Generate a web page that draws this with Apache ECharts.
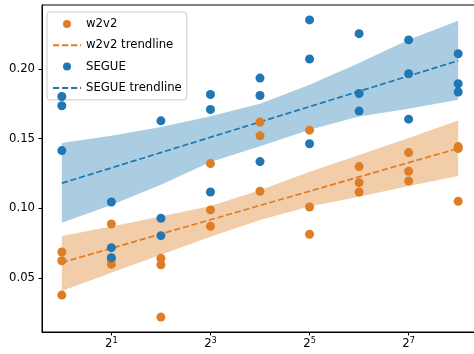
<!DOCTYPE html>
<html>
<head>
<meta charset="utf-8">
<script src="https://cdn.jsdelivr.net/npm/echarts@6/dist/echarts.min.js"></script>
<style>
html,body{margin:0;padding:0;background:#fff;}
#chart{width:474px;height:354px;}
</style>
</head>
<body>
<div id="chart"></div>
<script>
// ---- data ----
var xValues = [1, 2, 4, 8, 16, 32, 64, 128, 256];
var w2v2Values = [
  [0.0686, 0.0623, 0.0376],
  [0.0887, 0.0630, 0.0597],
  [0.0640, 0.0594, 0.0218],
  [0.1321, 0.0988, 0.0870],
  [0.1619, 0.1520, 0.1122],
  [0.1561, 0.1009, 0.0813],
  [0.1299, 0.1184, 0.1117],
  [0.1400, 0.1266, 0.1196],
  [0.1443, 0.1429, 0.1050]
];
var segueValues = [
  [0.1803, 0.1736, 0.1414],
  [0.1045, 0.0717, 0.0645],
  [0.1628, 0.0928, 0.0803],
  [0.1817, 0.1709, 0.1117],
  [0.1935, 0.1810, 0.1335],
  [0.2353, 0.2072, 0.1463],
  [0.2254, 0.1824, 0.1698],
  [0.2209, 0.1966, 0.1640],
  [0.2110, 0.1894, 0.1835]
];
var trendX = [1, 256];
var w2v2Trend = [0.061, 0.143];
var segueTrend = [0.118, 0.206];
var w2v2Upper = [0.0801, 0.0868, 0.0940, 0.1017, 0.1130, 0.1263, 0.1383, 0.1504, 0.1630];
var w2v2Lower = [0.0405, 0.0537, 0.0666, 0.0796, 0.0916, 0.1012, 0.1083, 0.1160, 0.1232];
var segueUpper = [0.1468, 0.1520, 0.1583, 0.1660, 0.1750, 0.1887, 0.2043, 0.2211, 0.2347];
var segueLower = [0.0896, 0.1024, 0.1168, 0.1333, 0.1446, 0.1563, 0.1659, 0.1714, 0.1779];
var xTickValues = [2, 8, 32, 128];
var yTickValues = [0.05, 0.10, 0.15, 0.20];

// ---- styling ----
var ORANGE = '#de7d25';
var BLUE = '#1f77b4';
var ORANGE_BAND = '#f2cdaa';
var BLUE_BAND = '#aacde2';
var FONT = 'DejaVu Sans';
var FS = 11.7;
var DASH = [6.2, 2.8];

function points(vals) {
  var out = [];
  vals.forEach(function (row, i) {
    row.forEach(function (v) { out.push([xValues[i], v]); });
  });
  return out;
}
function line(ys) { return ys.map(function (v, i) { return [trendX[i], v]; }); }
function bandSeries(upper, lower, color) {
  return {
    type: 'custom',
    silent: true,
    z: 1,
    clip: false,
    data: xValues.map(function (x, i) { return [x, upper[i], lower[i]]; }),
    renderItem: function (params, api) {
      if (params.dataIndex !== 0) return null;
      var pts = [];
      for (var i = 0; i < xValues.length; i++) pts.push(api.coord([xValues[i], upper[i]]));
      for (var j = xValues.length - 1; j >= 0; j--) pts.push(api.coord([xValues[j], lower[j]]));
      return { type: 'polygon', shape: { points: pts }, style: { fill: color } };
    }
  };
}

var chart = echarts.init(document.getElementById('chart'), null, { renderer: 'canvas' });
chart.setOption({
  animation: false,
  backgroundColor: '#fff',
  textStyle: { fontFamily: FONT },
  grid: {
    left: 42, width: 436, top: 5, height: 327,
    outerBoundsMode: 'none', containLabel: false,
    show: true, borderColor: '#000', borderWidth: 1, backgroundColor: 'transparent'
  },
  legend: {
    left: 47, top: 12, orient: 'vertical',
    itemWidth: 28, itemHeight: 8, itemGap: 9.3,
    padding: [6, 5, 6, 5],
    borderColor: '#cccccc', borderWidth: 1, borderRadius: 3,
    backgroundColor: 'rgba(255,255,255,0.8)',
    textStyle: { fontFamily: FONT, fontSize: FS, color: '#000' },
    data: [
      { name: 'w2v2' },
      { name: 'w2v2 trendline', itemStyle: { opacity: 0 } },
      { name: 'SEGUE' },
      { name: 'SEGUE trendline', itemStyle: { opacity: 0 } }
    ]
  },
  xAxis: {
    type: 'log', logBase: 2,
    min: Math.pow(2, -0.4), max: Math.pow(2, 8.4),
    splitLine: { show: false },
    axisLine: { lineStyle: { color: '#000', width: 1 } },
    axisTick: { customValues: xTickValues, length: 3.5, lineStyle: { color: '#000' } },
    axisLabel: {
      customValues: xTickValues,
      margin: 5,
      color: '#000', fontFamily: FONT, fontSize: FS,
      formatter: function (v) { return '2{sup|' + Math.round(Math.log(v) / Math.LN2) + '}'; },
      rich: { sup: { fontSize: 8.2, fontFamily: FONT, color: '#000', padding: [0, 0, 6, 0] } }
    }
  },
  yAxis: {
    type: 'value', min: 0.0111, max: 0.246,
    splitLine: { show: false },
    axisLine: { show: true, lineStyle: { color: '#000', width: 1 } },
    axisTick: { show: true, customValues: yTickValues, length: 3.5, lineStyle: { color: '#000' } },
    axisLabel: {
      customValues: yTickValues, margin: 7,
      color: '#000', fontFamily: FONT, fontSize: FS,
      formatter: function (v) { return v.toFixed(2); }
    }
  },
  series: [
    bandSeries(w2v2Upper, w2v2Lower, ORANGE_BAND),
    bandSeries(segueUpper, segueLower, BLUE_BAND),
    {
      name: 'w2v2', type: 'scatter', z: 4, symbol: 'circle', symbolSize: 9, clip: false,
      itemStyle: { color: ORANGE, opacity: 1 }, data: points(w2v2Values)
    },
    {
      name: 'w2v2 trendline', type: 'line', z: 3, symbol: 'none', showSymbol: false, color: ORANGE,
      lineStyle: { color: ORANGE, width: 1.7, type: DASH }, data: line(w2v2Trend)
    },
    {
      name: 'SEGUE', type: 'scatter', z: 4, symbol: 'circle', symbolSize: 9, clip: false,
      itemStyle: { color: BLUE, opacity: 1 }, data: points(segueValues)
    },
    {
      name: 'SEGUE trendline', type: 'line', z: 3, symbol: 'none', showSymbol: false, color: BLUE,
      lineStyle: { color: BLUE, width: 1.7, type: DASH }, data: line(segueTrend)
    }
  ]
});
</script>
</body>
</html>
